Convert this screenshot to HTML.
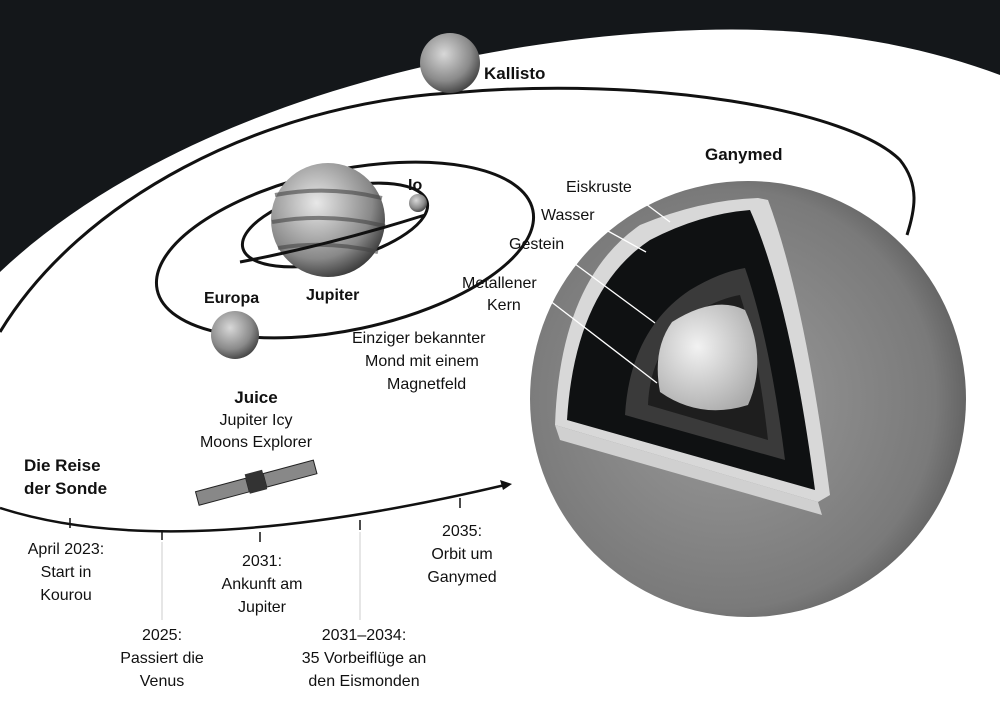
<!DOCTYPE html>
<html><head><meta charset="utf-8"><style>
html,body{margin:0;padding:0;background:#fff}
svg{display:block}
text{font-family:"Liberation Sans",sans-serif;fill:#111}
</style></head><body>
<svg width="1000" height="703" viewBox="0 0 1000 703" xmlns="http://www.w3.org/2000/svg">
<defs>
<radialGradient id="sph" cx="0.4" cy="0.35" r="0.75">
<stop offset="0" stop-color="#d8d8d8"/><stop offset="0.6" stop-color="#8a8a8a"/><stop offset="1" stop-color="#2e2e2e"/>
</radialGradient>
<radialGradient id="gan" cx="0.45" cy="0.5" r="0.6">
<stop offset="0" stop-color="#9a9a9a"/><stop offset="0.8" stop-color="#7a7a7a"/><stop offset="1" stop-color="#555"/>
</radialGradient>
<radialGradient id="jup" cx="0.4" cy="0.35" r="0.7">
<stop offset="0" stop-color="#e8e8e8"/><stop offset="0.7" stop-color="#888"/><stop offset="1" stop-color="#333"/>
</radialGradient>
<radialGradient id="core" cx="0.4" cy="0.4" r="0.7">
<stop offset="0" stop-color="#f2f2f2"/><stop offset="1" stop-color="#aaa"/>
</radialGradient>
</defs>
<rect width="1000" height="703" fill="#14171a"/>
<path d="M0 272 C150 130 420 40 700 30 C820 26 920 45 1000 75 L1000 703 L0 703 Z" fill="#fff"/>
<!-- Kallisto orbit -->
<path d="M0 332 C80 200 260 105 450 93 C650 75 850 110 900 160 C920 185 915 210 907 235" fill="none" stroke="#111" stroke-width="3"/>
<!-- Europa orbit -->
<ellipse cx="345" cy="250" rx="192" ry="80" transform="rotate(-12 345 250)" fill="none" stroke="#111" stroke-width="3"/>
<!-- Io orbit -->
<ellipse cx="335" cy="225" rx="95" ry="36" transform="rotate(-14 335 225)" fill="none" stroke="#111" stroke-width="3"/>
<circle cx="328" cy="220" r="57" fill="url(#jup)"/>
<g stroke="#444" stroke-width="4" fill="none" opacity="0.6">
<path d="M275 195 Q328 185 382 198"/><path d="M272 222 Q328 212 385 226"/><path d="M278 248 Q328 240 378 252"/>
</g>
<path d="M240 262 Q330 245 425 215" fill="none" stroke="#111" stroke-width="3"/>
<circle cx="418" cy="203" r="9" fill="url(#sph)"/>
<circle cx="235" cy="335" r="24" fill="url(#sph)"/>
<circle cx="450" cy="63" r="30" fill="url(#sph)"/>
<text x="484" y="79" font-size="17" font-weight="bold">Kallisto</text>
<text x="408" y="190" font-size="16" font-weight="bold">Io</text>
<text x="204" y="303" font-size="16" font-weight="bold">Europa</text>
<text x="306" y="300" font-size="16" font-weight="bold">Jupiter</text>
<text x="705" y="160" font-size="17" font-weight="bold">Ganymed</text>
<!-- Ganymede -->
<circle cx="748" cy="399" r="218" fill="url(#gan)"/>
<path d="M555 425 Q560 280 640 225 Q700 200 758 198 L768 200 Q805 300 830 495 L818 502 Z" fill="#d8d8d8"/>
<path d="M567 420 Q575 290 650 240 Q700 214 750 210 Q790 300 815 490 Z" fill="#0f1112"/>
<path d="M625 415 Q630 330 690 290 Q720 272 745 268 Q770 340 785 460 Z" fill="#3a3a3a"/>
<path d="M648 405 Q650 345 700 310 Q722 298 740 295 Q758 350 768 440 Z" fill="#1e1e1e"/>
<path d="M672 322 Q715 295 745 310 Q768 360 748 405 Q700 420 660 392 Q652 350 672 322 Z" fill="url(#core)"/>
<path d="M555 425 L818 502 L822 515 L560 440 Z" fill="#d0d0d0"/>
<g stroke="#fff" stroke-width="1.3">
<line x1="638" y1="198" x2="670" y2="222"/><line x1="597" y1="225" x2="646" y2="252"/>
<line x1="567" y1="258" x2="655" y2="323"/><line x1="545" y1="297" x2="657" y2="383"/>
</g>
<g font-size="16">
<text x="566" y="192">Eiskruste</text>
<text x="541" y="220">Wasser</text>
<text x="509" y="249">Gestein</text>
<text x="462" y="288">Metallener</text>
<text x="487" y="310">Kern</text>
<text x="352" y="343">Einziger bekannter</text>
<text x="365" y="366">Mond mit einem</text>
<text x="387" y="389">Magnetfeld</text>
</g>
<text x="256" y="403" font-size="17" font-weight="bold" text-anchor="middle">Juice</text>
<text x="256" y="425" font-size="16" text-anchor="middle">Jupiter Icy</text>
<text x="256" y="447" font-size="16" text-anchor="middle">Moons Explorer</text>
<!-- probe -->
<g transform="rotate(-15 255 482)">
<rect x="195" y="476" width="52" height="14" fill="#888" stroke="#222"/>
<rect x="265" y="476" width="52" height="14" fill="#888" stroke="#222"/>
<rect x="247" y="472" width="18" height="20" fill="#333"/>
</g>
<text x="24" y="471" font-size="17" font-weight="bold">Die Reise</text>
<text x="24" y="494" font-size="17" font-weight="bold">der Sonde</text>
<path d="M0 508 C100 540 250 545 505 485" fill="none" stroke="#111" stroke-width="2.5"/>
<path d="M512 484 L500 480 L503 490 Z" fill="#111"/>
<g stroke="#111" stroke-width="1.5">
<line x1="70" y1="518" x2="70" y2="528"/><line x1="162" y1="530" x2="162" y2="540"/>
<line x1="260" y1="532" x2="260" y2="542"/><line x1="360" y1="520" x2="360" y2="530"/>
<line x1="460" y1="498" x2="460" y2="508"/>
</g>
<g stroke="#ccc" stroke-width="1"><line x1="162" y1="542" x2="162" y2="620"/><line x1="360" y1="532" x2="360" y2="620"/></g>
<g font-size="16" text-anchor="middle">
<text x="66" y="554">April 2023:</text><text x="66" y="577">Start in</text><text x="66" y="600">Kourou</text>
<text x="162" y="640">2025:</text><text x="162" y="663">Passiert die</text><text x="162" y="686">Venus</text>
<text x="262" y="566">2031:</text><text x="262" y="589">Ankunft am</text><text x="262" y="612">Jupiter</text>
<text x="364" y="640">2031–2034:</text><text x="364" y="663">35 Vorbeiflüge an</text><text x="364" y="686">den Eismonden</text>
<text x="462" y="536">2035:</text><text x="462" y="559">Orbit um</text><text x="462" y="582">Ganymed</text>
</g>
</svg>
</body></html>
